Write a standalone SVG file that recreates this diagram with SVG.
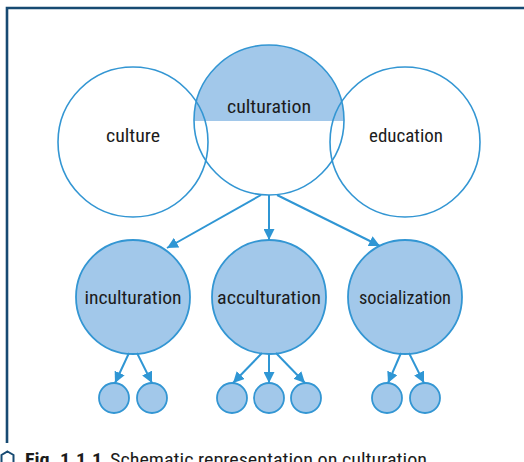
<svg xmlns="http://www.w3.org/2000/svg" width="524" height="462" viewBox="0 0 524 462">
<defs>
<marker id="ah" viewBox="0 0 10 10" refX="10" refY="5" markerWidth="11" markerHeight="11" markerUnits="userSpaceOnUse" orient="auto">
<path d="M0,0 L10,5 L0,10 Z" fill="#2f96d4"/>
</marker>
<clipPath id="topHalf"><rect x="180" y="30" width="180" height="91"/></clipPath>
</defs>
<style>
.ring{fill:none;stroke:#3396d3;stroke-width:1.6}
.node{fill:#a2c8ea;stroke:#3396d3;stroke-width:1.8}
.leaf{fill:#a2c8ea;stroke:#3396d3;stroke-width:1.8}
.lbl{font-family:"Liberation Sans Narrow","Roboto Condensed","Liberation Sans",sans-serif;font-size:19px;fill:#1c1c1c;text-anchor:middle}
.conn line{stroke:#2f96d4;stroke-width:2;marker-end:url(#ah)}
.frame{stroke:#174a72;stroke-width:2.6;fill:none}
.cap{font-family:"Liberation Sans Narrow","Roboto Condensed","Liberation Sans",sans-serif;font-size:19px;fill:#1c1c1c}
</style>
<rect width="524" height="462" fill="#ffffff"/>
<path class="frame" d="M7,443 L7,8 L524,8"/>

<g id="culturation-fill">
<circle cx="269" cy="120" r="75" fill="#a2c8ea" clip-path="url(#topHalf)"/>
</g>
<g id="culture">
<circle class="ring" cx="133" cy="142" r="75"/>
<text class="lbl" x="133" y="142" textLength="54" lengthAdjust="spacingAndGlyphs">culture</text>
</g>
<g id="education">
<circle class="ring" cx="405" cy="142" r="75"/>
<text class="lbl" x="406" y="142" textLength="74" lengthAdjust="spacingAndGlyphs">education</text>
</g>
<g id="culturation">
<circle class="ring" cx="269" cy="120" r="75"/>
<text class="lbl" x="269" y="113" textLength="84" lengthAdjust="spacingAndGlyphs">culturation</text>
</g>

<g id="inculturation">
<circle class="node" cx="133" cy="297" r="57"/>
<text class="lbl" x="133" y="304" textLength="97" lengthAdjust="spacingAndGlyphs">inculturation</text>
</g>
<g id="acculturation">
<circle class="node" cx="269" cy="297" r="57"/>
<text class="lbl" x="269" y="304" textLength="104" lengthAdjust="spacingAndGlyphs">acculturation</text>
</g>
<g id="socialization">
<circle class="node" cx="405" cy="297" r="57"/>
<text class="lbl" x="405" y="304" textLength="92" lengthAdjust="spacingAndGlyphs">socialization</text>
</g>

<g id="leaf1"><circle class="leaf" cx="114" cy="398" r="15"/></g>
<g id="leaf2"><circle class="leaf" cx="152" cy="398" r="15"/></g>
<g id="leaf3"><circle class="leaf" cx="232" cy="398" r="15"/></g>
<g id="leaf4"><circle class="leaf" cx="269" cy="398" r="15"/></g>
<g id="leaf5"><circle class="leaf" cx="306" cy="398" r="15"/></g>
<g id="leaf6"><circle class="leaf" cx="387" cy="398" r="15"/></g>
<g id="leaf7"><circle class="leaf" cx="425" cy="398" r="15"/></g>

<g id="connectors" class="conn">
<line x1="261" y1="195" x2="167" y2="248"/>
<line x1="269" y1="195" x2="269" y2="240"/>
<line x1="277" y1="195" x2="380" y2="246"/>
<line x1="129" y1="353" x2="115" y2="383"/>
<line x1="137" y1="353" x2="152" y2="383"/>
<line x1="262" y1="353" x2="233" y2="383"/>
<line x1="269" y1="353" x2="269" y2="383"/>
<line x1="276" y1="353" x2="305" y2="383"/>
<line x1="401" y1="353" x2="388" y2="383"/>
<line x1="409" y1="353" x2="424" y2="383"/>
</g>

<g id="caption">
<polygon points="7.5,451.5 13.5,455 13.5,462 7.5,465.5 1.5,462 1.5,455" fill="none" stroke="#174a72" stroke-width="2"/>
<text class="cap" y="466"><tspan x="25" font-weight="bold" textLength="77" lengthAdjust="spacingAndGlyphs">Fig. 1.1.1</tspan><tspan x="110" textLength="317" lengthAdjust="spacingAndGlyphs">Schematic representation on culturation</tspan></text>
</g>
</svg>
